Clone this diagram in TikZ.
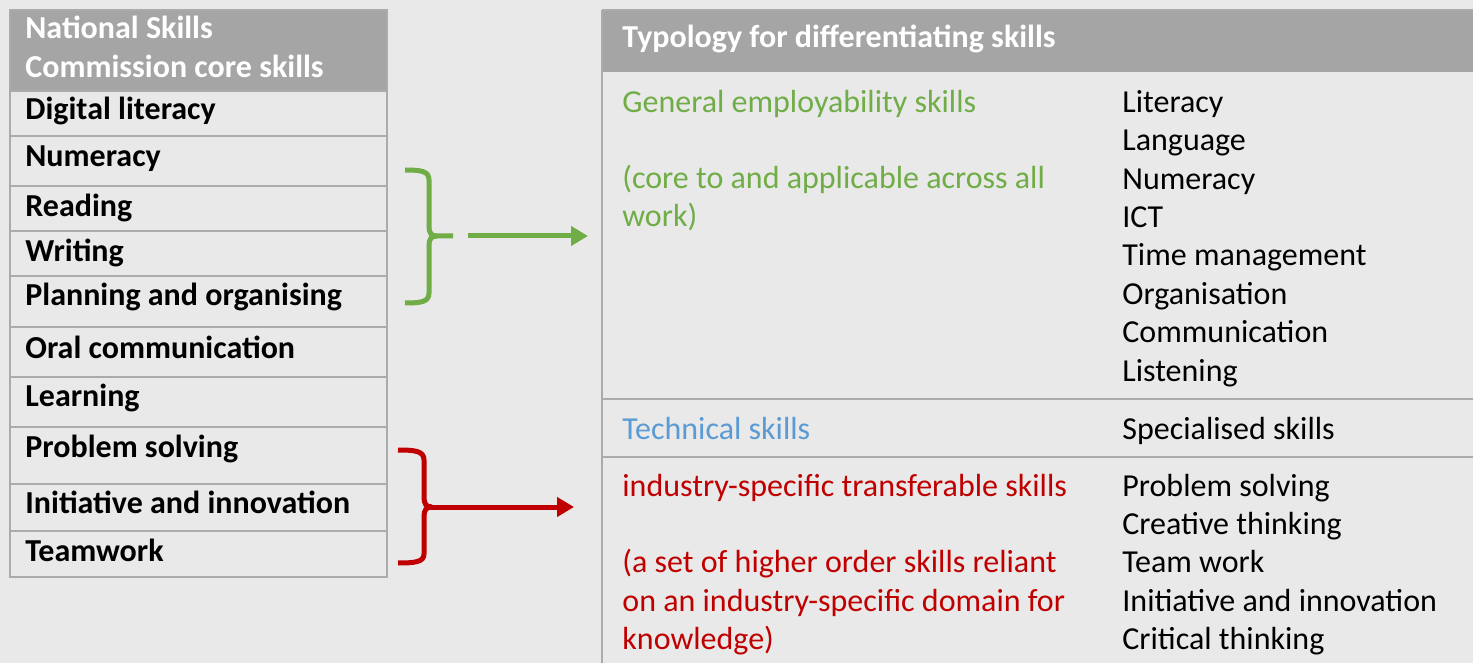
\documentclass[tikz,border=0pt]{standalone}
\usepackage{fontspec}
\setmainfont{Carlito}
\usetikzlibrary{arrows.meta}
\definecolor{bgcol}{HTML}{E8E9E8}
\definecolor{headgray}{HTML}{A5A5A5}
\definecolor{rulegray}{HTML}{ABABAB}
\definecolor{skillgreen}{HTML}{70AD47}
\definecolor{skillred}{HTML}{C00000}
\definecolor{skillblue}{HTML}{5B9BD5}
\newcommand\skillsize{\fontsize{16}{19}\selectfont}
\tikzset{
  cell/.style={draw=rulegray, line width=1pt},
  rule/.style={draw=rulegray, line width=1pt},
  headtxt/.style={anchor=base west, inner sep=0pt, text=white, font=\bfseries\skillsize},
  lefttxt/.style={anchor=base west, inner sep=0pt, font=\bfseries\skillsize},
  righttxt/.style={anchor=base west, inner sep=0pt, font=\skillsize},
  brace/.style={line width=2.5pt},
  link/.style={line width=2.5pt, -{Triangle[length=8.5pt,width=9.5pt]}}
}
\begin{document}
\begin{tikzpicture}[x=0.5pt,y=-0.5pt]
  \fill[bgcol] (0,0) rectangle (1473,663);
  \useasboundingbox (0,0) rectangle (1473,663);
  % left table
  \fill[headgray] (10,10) rectangle (387,91);
  \foreach \ya/\yb in {91/136,136/186,186/231,231/276,276/327,327/377,377/427,427/484,484/531,531/577}
    \draw[cell] (10,\ya) rectangle (387,\yb);
  \draw[cell] (10,10) rectangle (387,91);
  \node[headtxt] (nsc1) at (25,39) {National Skills};
  \node[headtxt] (nsc2) at (25,77.5) {Commission core skills};
  \node[lefttxt] (digital) at (25,120) {Digital literacy};
  \node[lefttxt] (numeracy) at (25,166.5) {Numeracy};
  \node[lefttxt] (reading) at (25,216.5) {Reading};
  \node[lefttxt] (writing) at (25,261.5) {Writing};
  \node[lefttxt] (planning) at (25,305.5) {Planning and organising};
  \node[lefttxt] (oral) at (25,358) {Oral communication};
  \node[lefttxt] (learning) at (25,407) {Learning};
  \node[lefttxt] (problem) at (25,457.5) {Problem solving};
  \node[lefttxt] (initiative) at (25,513) {Initiative and innovation};
  \node[lefttxt] (teamwork) at (25,561) {Teamwork};
  % right table
  \fill[headgray] (602,10) rectangle (1473,72);
  \draw[rule] (602,10) -- (1473,10);
  \draw[rule] (602,10) -- (602,663);
  \draw[rule] (602,399) -- (1473,399);
  \draw[rule] (602,457) -- (1473,457);
  \node[headtxt] (typology) at (622,48) {Typology for differentiating skills};
  \node[righttxt, text=skillgreen] (general) at (622,112.3) {General employability skills};
  \node[righttxt, text=skillgreen] (general2) at (622,188.3) {(core to and applicable across all};
  \node[righttxt, text=skillgreen] (general3) at (622,226.7) {work)};
  \foreach \t [count=\i from 0] in {Literacy,Language,Numeracy,ICT,Time management,Organisation,Communication,Listening}
    \node[righttxt] (gen\i) at (1122,112.3+38.4*\i) {\t};
  \node[righttxt, text=skillblue] (technical) at (622,439) {Technical skills};
  \node[righttxt] (special) at (1122,439) {Specialised skills};
  \node[righttxt, text=skillred] (industry) at (622,496) {industry-specific transferable skills};
  \node[righttxt, text=skillred] (industry2) at (622,572.8) {(a set of higher order skills reliant};
  \node[righttxt, text=skillred] (industry3) at (622,611.2) {on an industry-specific domain for};
  \node[righttxt, text=skillred] (industry4) at (622,649.6) {knowledge)};
  \foreach \t [count=\i from 0] in {Problem solving,Creative thinking,Team work,Initiative and innovation,Critical thinking}
    \node[righttxt] (ind\i) at (1122,496+38.4*\i) {\t};
  % green brace
  \draw[brace, skillgreen] (405,170) .. controls (421,170) and (429,171) .. (429,180) -- (429,226)
    .. controls (429,233) and (431,236) .. (437,236) -- (453,236);
  \draw[brace, skillgreen] (437,236) .. controls (431,236) and (429,239) .. (429,246) -- (429,293)
    .. controls (429,302) and (421,303) .. (405,303);
  \coordinate (gfrom) at (468,236);
  \coordinate (gto) at (588,236);
  \draw[link, skillgreen] (gfrom) -- (gto);
  % red brace
  \draw[brace, skillred] (398,450) .. controls (415,450) and (424,451) .. (424,460) -- (424,497)
    .. controls (424,504) and (426,507) .. (432,507);
  \draw[brace, skillred] (432,507) .. controls (426,507) and (424,510) .. (424,517) -- (424,554)
    .. controls (424,562) and (415,563) .. (398,563);
  \coordinate (rfrom) at (431,507);
  \coordinate (rto) at (574,507);
  \draw[link, skillred] (rfrom) -- (rto);
\end{tikzpicture}
\end{document}
